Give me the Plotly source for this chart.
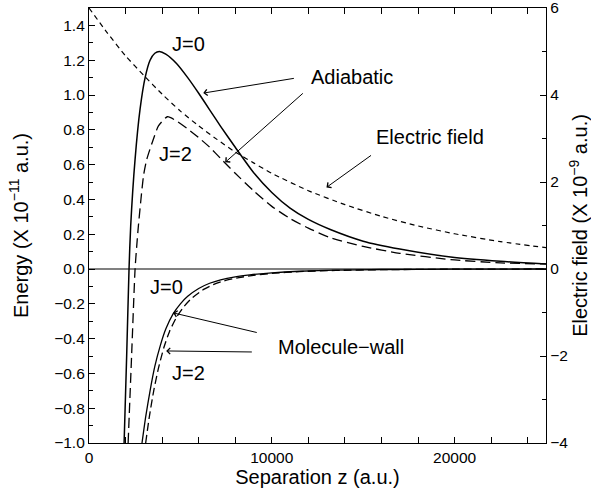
import plotly.graph_objects as go

# ---- data ----
# Adiabatic potential, J=0 (solid)
adia_j0_z = [1920, 2060, 2190, 2280, 2520, 2795, 3070, 3340, 3600, 3850, 4200, 4800, 5400, 6000, 6600, 7200, 8000, 9000, 10000, 11000, 12000, 13200, 15000, 17000, 19780, 22520, 25000]
adia_j0_e = [-1.0, -0.5, 0.0, 0.246, 0.63, 0.92, 1.10, 1.20, 1.24, 1.25, 1.235, 1.18, 1.10, 1.01, 0.915, 0.82, 0.70, 0.555, 0.44, 0.35, 0.285, 0.227, 0.16, 0.115, 0.069, 0.044, 0.029]

# Adiabatic potential, J=2 (long dash)
adia_j2_z = [2140, 2330, 2520, 2610, 2700, 2980, 3160, 3520, 3800, 4290, 4800, 5400, 6000, 6600, 7200, 8000, 9000, 10000, 11000, 12000, 13200, 15000, 17000, 19780, 22520, 25000]
adia_j2_e = [-1.0, -0.5, 0.0, 0.13, 0.246, 0.534, 0.63, 0.746, 0.822, 0.875, 0.85, 0.805, 0.755, 0.70, 0.635, 0.55, 0.45, 0.36, 0.29, 0.235, 0.18, 0.13, 0.09, 0.054, 0.035, 0.029]

# Molecule-wall potential, J=0 (solid)
mw_j0_z = [2900, 3100, 3340, 3600, 3900, 4200, 4600, 5000, 5400, 6000, 6600, 7200, 8000, 8800, 10000, 11500, 13500, 16000, 20000, 25000]
mw_j0_e = [-1.0, -0.85, -0.70, -0.56, -0.44, -0.345, -0.258, -0.20, -0.157, -0.112, -0.082, -0.062, -0.045, -0.034, -0.022, -0.013, -0.007, -0.003, -0.001, 0.0]

# Molecule-wall potential, J=2 (long dash)
mw_j2_z = [3100, 3300, 3540, 3800, 4100, 4400, 4800, 5200, 5600, 6200, 6800, 7400, 8200, 9000, 10000, 11500, 13500, 16000, 20000, 25000]
mw_j2_e = [-1.0, -0.85, -0.70, -0.57, -0.45, -0.36, -0.275, -0.215, -0.17, -0.122, -0.09, -0.068, -0.049, -0.037, -0.025, -0.015, -0.008, -0.004, -0.001, 0.0]

# Electric field (short dash, right axis)
field_z = [0, 1000, 2000, 3000, 4000, 5000, 6000, 7000, 8000, 9000, 10000, 12000, 14000, 16000, 18000, 20000, 22500, 25000]
field_f = [6.0, 5.43, 4.9, 4.45, 4.02, 3.63, 3.29, 2.98, 2.69, 2.44, 2.2, 1.8, 1.48, 1.21, 0.99, 0.81, 0.63, 0.49]

x_ticks = [0, 10000, 20000]
y2_ticks = [-4, -2, 0, 2, 4, 6]

FONT = "Liberation Sans, Arial, Helvetica, sans-serif"

fig = go.Figure()

def add_curve(z, e, dash, yaxis="y", width=1.3):
    fig.add_trace(go.Scatter(
        x=z, y=e, mode="lines", yaxis=yaxis,
        line=dict(color="black", width=width, dash=dash, shape="spline", smoothing=0.6),
        showlegend=False, hoverinfo="skip"))

add_curve(adia_j0_z, adia_j0_e, "solid", width=1.5)
add_curve(adia_j2_z, adia_j2_e, "10px,5px")
add_curve(mw_j0_z, mw_j0_e, "solid")
add_curve(mw_j2_z, mw_j2_e, "8px,4px")
add_curve(field_z, field_f, "5px,4px", yaxis="y2", width=1.2)

texts = [
    ("J=0", 5430, 1.293),
    ("J=2", 4710, 0.659),
    ("Adiabatic", 14380, 1.103),
    ("Electric field", 18660, 0.757),
    ("J=0", 4220, -0.102),
    ("J=2", 5430, -0.598),
    ("Molecule\u2212wall", 13810, -0.448),
]
arrows = [
    (6250, 1.011, 11290, 1.097),
    (7450, 0.613, 11780, 1.017),
    (12990, 0.469, 15510, 0.659),
    (4600, -0.252, 9260, -0.367),
    (4220, -0.471, 8990, -0.477),
]

annotations = []
for t, x, y in texts:
    annotations.append(dict(text=t, x=x, y=y, xref="x", yref="y", showarrow=False,
                            font=dict(family=FONT, size=20, color="black")))
for hx, hy, tx, ty in arrows:
    annotations.append(dict(text="", x=hx, y=hy, ax=tx, ay=ty, xref="x", yref="y",
                            axref="x", ayref="y", showarrow=True, arrowhead=4,
                            arrowsize=1.2, arrowwidth=1, arrowcolor="black"))

axis_common = dict(
    showline=True, linecolor="black", linewidth=1.2,
    ticks="inside", ticklen=6, tickwidth=1, tickcolor="black",
    showgrid=False, automargin=False, ticklabeloverflow="allow",
    tickfont=dict(family=FONT, size=15.5, color="black"),
)

fig.update_layout(
    width=591, height=494,
    margin=dict(l=89, r=45, t=8, b=51),
    paper_bgcolor="white", plot_bgcolor="white",
    font=dict(family=FONT, color="black"),
    xaxis=dict(
        range=[0, 25000], tickvals=x_ticks, ticktext=[str(v) for v in x_ticks],
        mirror="allticks", zeroline=False,
        minor=dict(dtick=2000, ticks="inside", ticklen=4, tickcolor="black", showgrid=False),
        title=dict(text="Separation z (a.u.)", font=dict(family=FONT, size=20), standoff=2),
        **axis_common),
    yaxis=dict(
        range=[-1.0, 1.5], dtick=0.2, tick0=0, tickformat=".1f",
        zeroline=True, zerolinecolor="#808080", zerolinewidth=1.5,
        minor=dict(dtick=0.1, ticks="inside", ticklen=4, tickcolor="black", showgrid=False),
        title=dict(text="Energy (X 10<sup>\u221211</sup> a.u.)", font=dict(family=FONT, size=20), standoff=20),
        **axis_common),
    yaxis2=dict(
        range=[-4, 6.0001], tickvals=y2_ticks, ticktext=[str(v).replace("-", "\u2212") for v in y2_ticks],
        overlaying="y", side="right",
        zeroline=False,
        minor=dict(dtick=1, ticks="inside", ticklen=4, tickcolor="black", showgrid=False),
        title=dict(text="Electric field (X 10<sup>\u22129</sup> a.u.)", font=dict(family=FONT, size=20), standoff=6),
        **axis_common),
    annotations=annotations,
)

fig.write_html("out.html", config={"displayModeBar": False},
               post_script="document.body.style.margin='0';")
